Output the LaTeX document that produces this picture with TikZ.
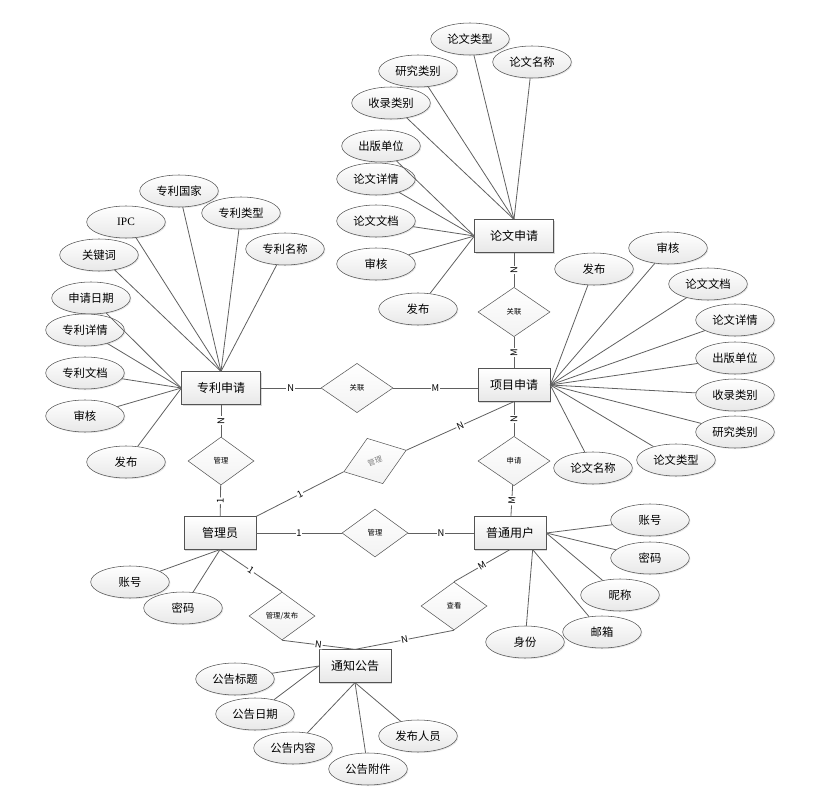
\documentclass[tikz,border=0pt]{standalone}
\usepackage{fontspec}
\setmainfont{Noto Sans CJK SC}
\newfontfamily\ipcfont{Liberation Serif}
\usetikzlibrary{shapes.geometric,shadows}

\begin{document}
\begin{tikzpicture}[x=0.75pt, y=-0.75pt,
    entity/.style={draw=gray!65!black, top color=white, bottom color=gray!18, minimum width=54pt, minimum height=24.5pt, inner sep=1pt, font=\fontsize{9}{10}\selectfont, drop shadow={shadow xshift=1pt, shadow yshift=-1pt, opacity=.3}},
    attr/.style={ellipse, draw=gray!65!black, top color=white, bottom color=gray!18, minimum width=59pt, minimum height=24pt, inner sep=0pt, font=\fontsize{8.5}{9}\selectfont, drop shadow={shadow xshift=.8pt, shadow yshift=-.8pt, opacity=.2}},
    rel/.style={diamond, draw=gray!70!black, top color=white, bottom color=gray!10, minimum width=54pt, minimum height=37pt, inner sep=0pt, font=\fontsize{5.5}{6}\selectfont},
    srel/.style={rel, minimum width=49.5pt, minimum height=36pt},
    conn/.style={draw=gray!75!black, line width=0.6pt},
    lbl/.style={font=\fontsize{7}{7}\selectfont, fill=white, inner sep=0.6pt, sloped}
]
\useasboundingbox (0,0) rectangle (815,806);

% entities
\node[entity, minimum width=59pt] (paper) at (514,236) {论文申请};
\node[entity, minimum width=59pt] (patent) at (221,388) {专利申请};
\node[entity] (project) at (514,385) {项目申请};
\node[entity] (user) at (510,533) {普通用户};
\node[entity] (admin) at (220,533) {管理员};
\node[entity] (notice) at (355,666) {通知公告};

% relations
\node[rel] (r1) at (514,312) {关联};
\node[rel] (r2) at (357,388) {关联};
\node[srel] (r3) at (221,461) {管理};
\node[srel, rotate=19, text=gray] (r4) at (375,461) {管理};
\node[rel] (r5) at (514,461) {申请};
\node[srel] (r6) at (375,533) {管理};
\node[srel] (r7) at (282,616) {管理/发布};
\node[srel] (r8) at (454,606) {查看};

% paper attributes
\node[attr] (p1) at (470,39) {论文类型};
\node[attr] (p2) at (532,62) {论文名称};
\node[attr] (p3) at (418,71) {研究类别};
\node[attr] (p4) at (391,103) {收录类别};
\node[attr] (p5) at (381,146) {出版单位};
\node[attr] (p6) at (376,179) {论文详情};
\node[attr] (p7) at (376,221) {论文文档};
\node[attr] (p8) at (376,264) {审核};
\node[attr] (p9) at (418,309) {发布};

% patent attributes
\node[attr] (t1) at (179,191) {专利国家};
\node[attr] (t2) at (126,222) {\ipcfont IPC};
\node[attr] (t3) at (241,213) {专利类型};
\node[attr] (t4) at (285,249) {专利名称};
\node[attr] (t5) at (99,255) {关键词};
\node[attr] (t6) at (91,298) {申请日期};
\node[attr] (t7) at (85,330) {专利详情};
\node[attr] (t8) at (85,373) {专利文档};
\node[attr] (t9) at (85,416) {审核};
\node[attr] (t10) at (126,462) {发布};

% project attributes
\node[attr] (j1) at (594,269) {发布};
\node[attr] (j2) at (668,248) {审核};
\node[attr] (j3) at (708,284) {论文文档};
\node[attr] (j4) at (735,320) {论文详情};
\node[attr] (j5) at (735,358) {出版单位};
\node[attr] (j6) at (735,395) {收录类别};
\node[attr] (j7) at (735,432) {研究类别};
\node[attr] (j8) at (676,460) {论文类型};
\node[attr] (j9) at (593,468) {论文名称};

% user attributes
\node[attr] (u1) at (650,520) {账号};
\node[attr] (u2) at (650,558) {密码};
\node[attr] (u3) at (620,595) {昵称};
\node[attr] (u4) at (602,632) {邮箱};
\node[attr] (u5) at (525,642) {身份};

% admin attributes
\node[attr] (a1) at (130,582) {账号};
\node[attr] (a2) at (183,608) {密码};

% notice attributes
\node[attr] (n1) at (235,679) {公告标题};
\node[attr] (n2) at (255,714) {公告日期};
\node[attr] (n3) at (293,748) {公告内容};
\node[attr] (n4) at (368,769) {公告附件};
\node[attr] (n5) at (418,736) {发布人员};

% attribute lines
\foreach \a in {p1,p2,p3,p4} \draw[conn] (\a) -- (paper.north);
\foreach \a in {p5,p6,p7,p8,p9} \draw[conn] (\a) -- (paper.west);
\foreach \a in {t1,t2,t3,t4,t5} \draw[conn] (\a) -- (patent.north);
\foreach \a in {t6,t7,t8,t9,t10} \draw[conn] (\a) -- (patent.west);
\foreach \a in {j1,j2,j3,j4,j5,j6,j7,j8,j9} \draw[conn] (\a) -- (project.east);
\foreach \a in {u1,u2,u3} \draw[conn] (\a) -- (user.east);
\foreach \a in {u4,u5} \draw[conn] (\a) -- ([xshift=17pt]user.south);
\foreach \a in {a1,a2} \draw[conn] (\a) -- (admin.south);
\foreach \a in {n1,n2} \draw[conn] (\a) -- (notice.west);
\foreach \a in {n3,n4,n5} \draw[conn] (\a) -- (notice.south);

% relation lines
\draw[conn] (r1) -- node[lbl] {N} (paper);
\draw[conn] (project) -- node[lbl] {M} (r1);
\draw[conn] (patent) -- node[lbl] {N} (r2);
\draw[conn] (r2) -- node[lbl] {M} (r2.east -| project.west);
\draw[conn] (r3) -- node[lbl] {N} (patent);
\draw[conn] (admin) -- node[lbl] {1} (r3);
\draw[conn] (admin.north east) -- node[lbl] {1} (r4.west);
\draw[conn] (r4.east) -- node[lbl] {N} (project.south);
\draw[conn] (r5) -- node[lbl] {N} (project);
\draw[conn] (user) -- node[lbl] {M} (r5);
\draw[conn] (admin) -- node[lbl] {1} (r6);
\draw[conn] (r6) -- node[lbl] {N} (user);
\draw[conn] (admin.south) -- node[lbl] {1} (r7.north);
\draw[conn] (r7.south) -- node[lbl] {N} (notice.north);
\draw[conn] (user.south) -- node[lbl] {M} (r8.north);
\draw[conn] (r8.south) -- node[lbl] {N} (notice.north);
\end{tikzpicture}
\end{document}
